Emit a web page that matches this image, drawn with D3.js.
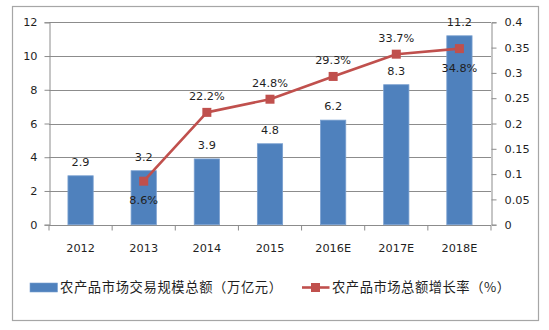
<!DOCTYPE html>
<html>
<head>
<meta charset="utf-8">
<script src="https://cdn.jsdelivr.net/npm/d3@7/dist/d3.min.js"></script>
<style>
  html, body { margin: 0; padding: 0; background: #fff; }
  svg { display: block; }
  text { font-family: "DejaVu Sans", Verdana, sans-serif; fill: #1f1f1f; }
  .cjk { font-family: "Noto Sans CJK SC", "Noto Sans", sans-serif; }
</style>
</head>
<body>
<svg id="chart" width="549" height="330"></svg>
<script>
// Years on the category axis
const years = ["2012", "2013", "2014", "2015", "2016E", "2017E", "2018E"];
// Total trading volume of agricultural product markets (trillion yuan)
const volume = [2.9, 3.2, 3.9, 4.8, 6.2, 8.3, 11.2];
// Growth rate of the total (fraction); no value for the first year
const growth = [null, 0.086, 0.222, 0.248, 0.293, 0.337, 0.348];
const growthLabels = [null, "8.6%", "22.2%", "24.8%", "29.3%", "33.7%", "34.8%"];
// Whether each growth label sits below its marker
const growthBelow = [false, true, false, false, false, false, true];
// Axis ticks
const leftTicks = [0, 2, 4, 6, 8, 10, 12];
const rightTicks = [0, 0.05, 0.1, 0.15, 0.2, 0.25, 0.3, 0.35, 0.4];
const rightTickLabels = ["0", "0.05", "0.1", "0.15", "0.2", "0.25", "0.3", "0.35", "0.4"];
// Legend entries
const legendNames = ["农产品市场交易规模总额（万亿元）", "农产品市场总额增长率（%）"];

const barColor = "#4F81BD";
const lineColor = "#C0504D";
const gridColor = "#8c8c8c";

const svg = d3.select("#chart");
const plot = { left: 49, right: 491, top: 22.3, bottom: 224.7 };

// Outer frame
svg.append("rect")
  .attr("x", 12.5).attr("y", 6.5)
  .attr("width", 526).attr("height", 314)
  .attr("fill", "#fff").attr("stroke", "#a6a6a6").attr("stroke-width", 1.2);

const x = d3.scaleBand().domain(years).range([plot.left, plot.right]).paddingInner(0).paddingOuter(0);
const yL = d3.scaleLinear().domain([0, 12]).range([plot.bottom, plot.top]);
const yR = d3.scaleLinear().domain([0, 0.4]).range([plot.bottom, plot.top]);

// Horizontal gridlines
svg.append("g").selectAll("line").data(leftTicks.filter(d => d > 0)).join("line")
  .attr("x1", plot.left).attr("x2", plot.right)
  .attr("y1", d => Math.round(yL(d)) + 0.5).attr("y2", d => Math.round(yL(d)) + 0.5)
  .attr("stroke", gridColor).attr("stroke-width", 1);

// Left axis
const axL = svg.append("g").attr("transform", `translate(${plot.left + 0.5},0)`)
  .call(d3.axisLeft(yL).tickValues(leftTicks).tickFormat(d3.format("d")).tickSize(5).tickPadding(6));
// Right axis
const axR = svg.append("g").attr("transform", `translate(${plot.right + 0.5},0)`)
  .call(d3.axisRight(yR).tickValues(rightTicks).tickFormat((d, i) => rightTickLabels[i]).tickSize(5).tickPadding(8));
// Bottom axis with ticks between categories
const axB = svg.append("g").attr("transform", `translate(0,${Math.round(plot.bottom) + 0.5})`)
  .call(d3.axisBottom(x).tickSize(0).tickPadding(18));
axB.selectAll(".tick").append("line")
  .attr("x1", x.bandwidth() / 2).attr("x2", x.bandwidth() / 2)
  .attr("y1", 0).attr("y2", 5).attr("stroke", gridColor);
axB.append("line").attr("x1", plot.left).attr("x2", plot.left).attr("y1", 0).attr("y2", 5).attr("stroke", gridColor);

[axL, axR, axB].forEach(a => {
  a.select(".domain").attr("stroke", gridColor);
  a.selectAll(".tick line").attr("stroke", gridColor);
  a.selectAll("text").attr("font-size", 11.3).attr("fill", "#1a1a1a")
    .attr("font-family", "DejaVu Sans, Verdana, sans-serif");
});
axB.select(".domain").attr("d", `M${plot.left},0H${plot.right}`);
axL.selectAll("text").attr("dx", -1);

// Bars
const bw = x.bandwidth() * 0.4;
svg.append("g").selectAll("rect").data(volume).join("rect")
  .attr("x", (d, i) => x(years[i]) + (x.bandwidth() - bw) / 2)
  .attr("y", d => yL(d))
  .attr("width", bw)
  .attr("height", d => yL(0) - yL(d))
  .attr("fill", barColor)
  .attr("stroke", "#7aa0d0").attr("stroke-width", 0.8);

// Bar value labels
svg.append("g").selectAll("text").data(volume).join("text")
  .attr("x", (d, i) => x(years[i]) + x.bandwidth() / 2)
  .attr("y", d => yL(d) - 10)
  .attr("text-anchor", "middle").attr("font-size", 11.3)
  .text(d => d.toFixed(1));

// Growth line
const pts = growth.map((g, i) => ({ g, i })).filter(p => p.g !== null);
const line = d3.line()
  .x(p => x(years[p.i]) + x.bandwidth() / 2)
  .y(p => yR(p.g));
svg.append("path").datum(pts)
  .attr("d", line).attr("fill", "none")
  .attr("stroke", lineColor).attr("stroke-width", 2.6).attr("stroke-linejoin", "round");
svg.append("g").selectAll("rect").data(pts).join("rect")
  .attr("x", p => x(years[p.i]) + x.bandwidth() / 2 - 4.5)
  .attr("y", p => yR(p.g) - 4.5)
  .attr("width", 9).attr("height", 9)
  .attr("fill", lineColor);

// Growth labels
svg.append("g").selectAll("text").data(pts).join("text")
  .attr("x", p => x(years[p.i]) + x.bandwidth() / 2)
  .attr("y", p => yR(p.g) + (growthBelow[p.i] ? 23 : -12))
  .attr("text-anchor", "middle").attr("font-size", 11.3)
  .text(p => growthLabels[p.i]);

// Legend
const lg = svg.append("g");
lg.append("rect").attr("x", 30).attr("y", 283).attr("width", 27.5).attr("height", 9)
  .attr("fill", barColor).attr("stroke", "#7aa0d0").attr("stroke-width", 0.6);
lg.append("text").attr("class", "cjk").attr("x", 60).attr("y", 292)
  .attr("font-size", 13.3).attr("textLength", 222).attr("lengthAdjust", "spacing")
  .text(legendNames[0]);
lg.append("line").attr("x1", 302).attr("x2", 329.5).attr("y1", 287.5).attr("y2", 287.5)
  .attr("stroke", lineColor).attr("stroke-width", 2.6);
lg.append("rect").attr("x", 311).attr("y", 283).attr("width", 9).attr("height", 9).attr("fill", lineColor);
lg.append("text").attr("class", "cjk").attr("x", 332).attr("y", 292)
  .attr("font-size", 13.3).attr("textLength", 178).attr("lengthAdjust", "spacing")
  .text(legendNames[1]);
</script>
</body>
</html>
